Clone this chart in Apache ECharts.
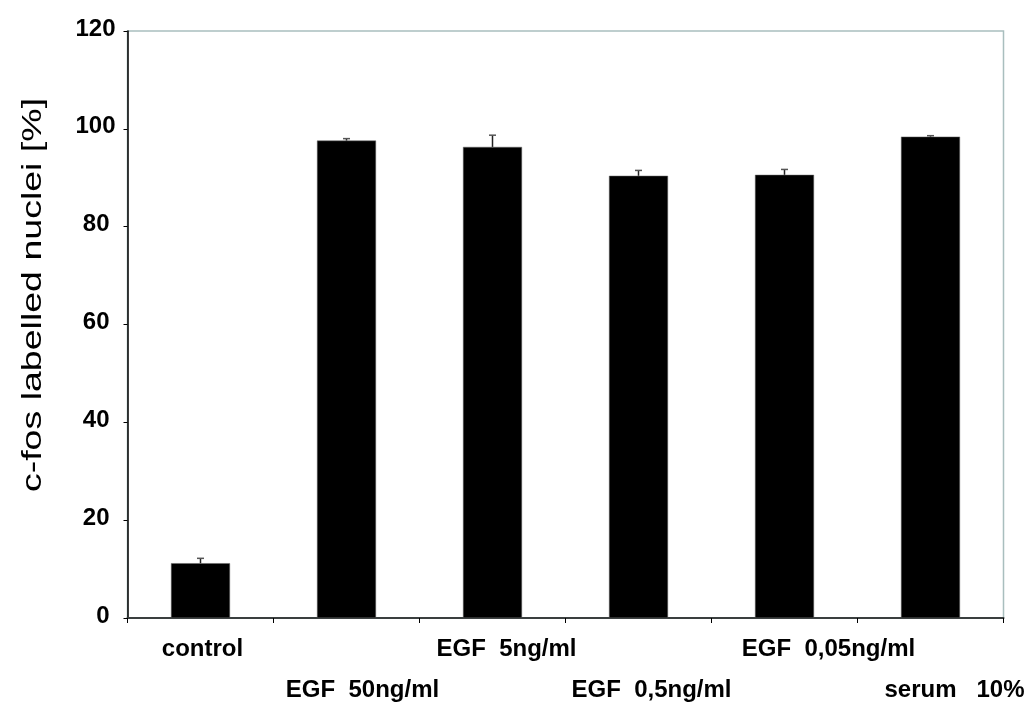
<!DOCTYPE html>
<html>
<head>
<meta charset="utf-8">
<script src="https://cdn.jsdelivr.net/npm/echarts@6/dist/echarts.min.js"></script>
<style>
  html, body { margin: 0; padding: 0; background: #fff; }
  #chart { width: 1026px; height: 702px; }
</style>
</head>
<body>
<div id="chart"></div>
<script>
// Percentage of c-fos labelled nuclei per treatment (mean and upper SD)
const categories = ['control', 'EGF  50ng/ml', 'EGF  5ng/ml', 'EGF  0,5ng/ml', 'EGF  0,05ng/ml', 'serum   10%'];
const means = [11.2, 97.6, 96.3, 90.4, 90.6, 98.4];
const errors = [1.0, 0.4, 2.4, 1.1, 1.1, 0.2];
const yTicks = { min: 0, max: 120, step: 20 };
const yTitle = 'c-fos labelled nuclei [%]';

// Horizontal nudge (px) of each category label relative to its slot centre
const labelShift = [2, 16, 14, 13, 44, 24];

const FONT = "'Liberation Sans', Arial, sans-serif";

const rich = {};
categories.forEach((c, i) => {
  rich['r' + i] = {
    fontFamily: FONT,
    fontSize: 24,
    fontWeight: 'bold',
    color: '#000',
    lineHeight: 26,
    padding: [i % 2 ? 82 : 0, 0, 0, 2 * labelShift[i]]
  };
});

const chart = echarts.init(document.getElementById('chart'), null, { renderer: 'canvas' });

chart.setOption({
  animation: false,
  backgroundColor: '#fff',
  grid: {
    left: 127.5, right: 22.5, top: 31, bottom: 84,
    containLabel: false,
    outerBoundsMode: 'none',
    show: true, borderColor: '#a9bebe', borderWidth: 1.5, backgroundColor: 'transparent'
  },
  graphic: [{
    type: 'text',
    x: 33, y: 295,
    rotation: Math.PI / 2,
    scaleX: 1.34,
    style: {
      text: yTitle,
      fontFamily: FONT,
      fontSize: 28,
      fill: '#000',
      align: 'center',
      verticalAlign: 'middle'
    }
  }],
  xAxis: {
    type: 'category',
    data: categories,
    boundaryGap: true,
    axisLine: { lineStyle: { color: '#3a3f3f', width: 2 } },
    axisTick: { show: true, length: 5, lineStyle: { color: '#000', width: 1 } },
    axisLabel: {
      interval: 0,
      margin: 18,
      hideOverlap: false,
      formatter: (v, i) => '{r' + i + '|' + v + '}',
      rich: rich
    },
    splitLine: { show: false }
  },
  yAxis: {
    type: 'value',
    min: yTicks.min, max: yTicks.max, interval: yTicks.step,
    axisLine: { show: true, lineStyle: { color: '#000', width: 1.5 } },
    axisTick: { show: true, length: 4, lineStyle: { color: '#000' } },
    splitLine: { show: false },
    axisLabel: {
      margin: 12,
      formatter: v => (v >= 100 ? '{w|' + v + '}' : '{n|' + v + '}'),
      rich: {
        w: { fontFamily: FONT, fontSize: 24, fontWeight: 'bold', color: '#000', padding: [0, 0, 4, 0] },
        n: { fontFamily: FONT, fontSize: 24, fontWeight: 'bold', color: '#000', padding: [0, 6, 4, 0] }
      }
    }
  },
  series: [
    {
      type: 'bar',
      data: means,
      barWidth: 59,
      itemStyle: { color: '#000', borderColor: '#666', borderWidth: 0.5 },
      z: 2
    },
    {
      type: 'custom',
      z: 3,
      data: means.map((m, i) => [i, m, m + errors[i]]),
      renderItem: (params, api) => {
        const base = api.coord([api.value(0), api.value(1)]);
        const top = api.coord([api.value(0), api.value(2)]);
        const half = 3.5;
        return {
          type: 'group',
          children: [
            { type: 'line', shape: { x1: base[0], y1: base[1], x2: top[0], y2: top[1] },
              style: { stroke: '#222', lineWidth: 1.5 } },
            { type: 'line', shape: { x1: top[0] - half, y1: top[1], x2: top[0] + half, y2: top[1] },
              style: { stroke: '#555', lineWidth: 1.5 } }
          ]
        };
      }
    }
  ]
});
</script>
</body>
</html>
